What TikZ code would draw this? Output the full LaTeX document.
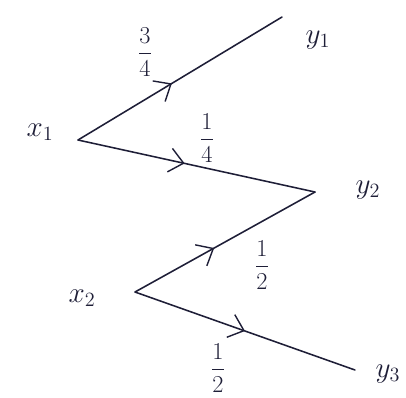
\documentclass[tikz,border=0pt]{standalone}
\usetikzlibrary{positioning, arrows.meta, decorations.markings}
\definecolor{ink}{RGB}{30,30,55}

\begin{document}
\begin{tikzpicture}[
  x=0.025cm, y=-0.025cm,
  var/.style={font=\huge, text=ink, inner sep=1pt},
  prob/.style={font=\LARGE, text=ink, inner sep=1pt},
  chan/.style={draw=ink, line width=1.1pt, line cap=round,
    postaction={decorate, decoration={markings,
      mark=at position #1 with {\arrow[ink, line width=1pt]{Straight Barb[length=3.5mm, width=6mm]}}}}}
]
\useasboundingbox (0,0) rectangle (406,397);

% inputs and outputs
\coordinate (x1) at (78,140);
\coordinate (x2) at (135,292);
\coordinate (y1) at (282,17);
\coordinate (y2) at (315,192);
\coordinate (y3) at (355,370);

\node[var] (lx1) at (40,132) {$x_1$};
\node[var] (lx2) at (82,298) {$x_2$};
\node[var] (ly1) at (318,40) {$y_1$};
\node[var] (ly2) at (368,190) {$y_2$};
\node[var] (ly3) at (388,374) {$y_3$};

% channel transitions
\draw[chan=0.46] (x1) -- (y1);
\draw[chan=0.45] (x1) -- (y2);
\draw[chan=0.44] (x2) -- (y2);
\draw[chan=0.5] (x2) -- (y3);

% transition probabilities
\node[prob] (p11) at (145,52) {$\displaystyle\frac{3}{4}$};
\node[prob] (p12) at (207,138) {$\displaystyle\frac{1}{4}$};
\node[prob] (p22) at (262,265) {$\displaystyle\frac{1}{2}$};
\node[prob] (p23) at (218,368) {$\displaystyle\frac{1}{2}$};

\end{tikzpicture}
\end{document}
